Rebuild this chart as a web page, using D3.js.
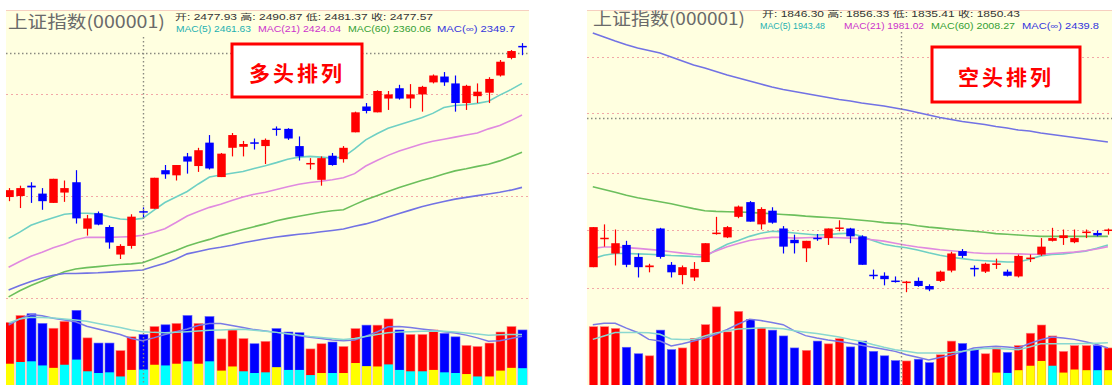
<!DOCTYPE html>
<html><head><meta charset="utf-8">
<script src="https://cdn.jsdelivr.net/npm/d3@7"></script>
<style>body{margin:0;background:#fff}svg{display:block}</style>
</head><body>
<svg id="c" width="1112" height="385"></svg>
<script>
// ================= LEFT CHART (多头排列) =================
const leftOpen  = [2271,2272.5,2287.5,2276,2262.5,2277.5,2292.5,2225,2247.5,2227.5,2187.5,2200,2250.5,2254,2310,2302.5,2330,2316,2350,2300,2342.5,2344,2350.5,2345,2370.5,2370,2345,2319.5,2296,2331,2326,2365,2402.5,2394,2414,2429,2414,2420,2437.5,2446,2436,2407.5,2417.5,2422.5,2447.5,2473,2490.5];
const leftClose = [2281,2284,2285,2265,2297.5,2284,2240,2240,2231,2205,2200,2242.5,2249.5,2299,2304,2317.5,2322.5,2339,2312.5,2334,2361,2348,2349.5,2354,2369.5,2356,2330,2320.5,2327.5,2317.5,2342.5,2394,2396,2425,2420,2414,2420,2431,2447.5,2437.5,2407.5,2432.5,2424,2442.5,2467.5,2483,2490];
const leftHigh  = [2284,2287.5,2292.5,2284,2297.5,2295,2310,2245,2250,2230,2202.5,2246,2256,2299,2317.5,2317.5,2335,2342.5,2361,2335,2364,2352.5,2356,2356,2373.5,2371,2359,2327.5,2330,2335,2345,2395,2407.5,2426,2425,2434,2435,2432.5,2449,2452.5,2447.5,2434,2436,2445,2470,2484.5,2494.5];
const leftLow   = [2265,2255,2262.5,2252.5,2262.5,2264,2232.5,2215,2230,2196,2181,2196,2240,2254,2297.5,2295,2305,2307.5,2311,2300,2330,2330,2340,2319,2360,2354,2324,2311,2287.5,2316.5,2321,2365,2392.5,2394,2397.5,2412.5,2400,2395,2436,2432.5,2395,2397.5,2407.5,2407.5,2446,2471,2477];
const leftMA1 = [2211,2220,2230,2236,2241,2246,2247.5,2247.5,2246.5,2242.5,2239,2238,2240,2251.5,2263,2271,2279,2290,2300,2303,2305.5,2308,2312.5,2316.5,2321,2326,2329,2330,2329,2327.5,2329,2341,2354,2363,2371,2376,2381,2386,2392.5,2401,2404,2405,2407,2410,2419,2427,2436];
const leftMA2 = [2169,2177.5,2185,2191,2197.5,2202.5,2209,2212.5,2212.5,2212.5,2213,2213.5,2215.5,2220,2225,2234,2243.5,2250,2256,2260.5,2266,2271,2275,2278,2282,2286,2289.5,2292,2294,2296,2299,2305,2316,2324,2331.5,2338,2343,2348,2352,2355,2358,2361,2364,2370,2375,2382,2390];
const leftMA3 = [2126,2135,2142.5,2149,2156,2162.5,2166.5,2168.5,2170,2171.5,2173,2174,2175.5,2181.5,2187.5,2193.5,2200,2205,2209.5,2215,2219.5,2224,2228,2232,2236.5,2240,2243,2246,2249,2251,2252.5,2260,2267,2273,2279,2285,2290,2295,2299.5,2304.5,2309,2312,2315.5,2318.5,2323.5,2329.5,2336];
const leftMA4 = [2136,2142.5,2148.5,2153.5,2157.5,2160,2160,2160.5,2161,2162,2163,2164,2165,2170,2175,2181,2188.5,2192,2195.5,2198,2201,2204.5,2207.5,2210.5,2213,2215,2217,2218.5,2220.5,2222.5,2224.5,2228.5,2232,2236.5,2242,2247,2252,2257,2261,2264.5,2268,2270.5,2273,2275.5,2278,2281,2285];
const leftVol   = [185,205,210,182,168,188,220,140,125,125,103,143,150,173,178,182,205,182,202,137,163,138,123,130,167,157,155,108,123,128,115,167,177,177,195,163,150,150,163,153,143,118,115,125,157,173,163];
const leftVolLow = [65,70,72,60,53,62,77,43,38,40,28,47,48,62,60,65,72,65,72,45,57,43,38,40,55,47,47,32,38,38,38,67,58,57,63,47,43,43,47,40,38,35,28,28,45,53,52];
const leftVolLowKind = "YCCCYCCCCCCYCYCYCYCYYCCCYCCCYCYYYYCCCCYCCYCYYYC";
const leftVolMA1 = [177,195,208,204,197,192,187,174,166,158,150,138,132,140,150,158,166,176,182,182,176,170,164,160,156,152,146,142,138,134,132,134,145,157,172,173,170,166,162,158,154,148,140,130,132,138,145];
const leftVolMA2 = [183,195,200,199,198,195,192,188,182,176,170,163,158,156,155,156,158,160,162,163,164,165,162,159,156,152,148,144,141,138,135,138,144,150,155,157,158,159,160,159,157,154,151,148,149,150,150];
const leftGrid = [2420, 2272, 2124];
const leftCursorPrice = 2480, leftCursorIndex = 12;

// ================= RIGHT CHART (空头排列) =================
const rightOpen  = [1797.5,1839.5,1817.5,1830,1812.5,1797.5,1854,1801,1786,1782.5,1805,1847,1841,1871,1892.5,1860,1880,1854,1837.5,1825,1840.5,1840,1854.5,1854,1842.5,1786.5,1785,1778,1775.5,1777.5,1770,1777.5,1792.5,1821,1796.5,1791,1802,1791,1784,1810.5,1816,1836,1840,1834,1848.5,1847.5,1852];
const rightClose = [1856,1840.5,1832.5,1801,1797.5,1800,1812.5,1790,1797.5,1795,1832.5,1848,1856,1886,1864,1882.5,1862.5,1827.5,1832.5,1836,1839.5,1854,1855.5,1842.5,1801,1785.5,1780,1777,1776.5,1770,1765,1791,1817.5,1814,1795.5,1802.5,1803,1785,1814,1811.5,1827.5,1840,1844,1840,1849.5,1844,1852.5];
const rightHigh  = [1856,1860,1852.5,1836,1817.5,1802.5,1855,1805,1800,1805,1832.5,1871,1857.5,1887.5,1894,1885,1885,1857.5,1845,1836,1846,1854,1866,1855,1844,1794,1790,1784,1777.5,1782.5,1772.5,1792.5,1820,1824,1800,1804,1810,1794,1816,1816,1840,1855,1852.5,1852.5,1852.5,1851,1854];
const rightLow   = [1797.5,1827.5,1800,1797.5,1782.5,1790,1810,1782.5,1772.5,1777.5,1805,1845,1840,1869,1864,1852.5,1861,1817.5,1817.5,1805,1836,1830,1850,1832.5,1801,1780,1771,1775,1761,1769,1762.5,1776,1790,1811,1784,1789,1795,1784,1782.5,1805,1814,1835,1830,1832.5,1840,1842.5,1845];
const rightMA1 = [1810,1815,1817.5,1817.5,1817,1816.5,1815.5,1814.5,1814,1813,1812.5,1822.5,1831,1836.5,1842.5,1847,1850,1849,1847.5,1846,1844.5,1845,1846.5,1847,1842.5,1836.5,1831,1828,1826,1822.5,1818.5,1815,1812,1810,1808,1807,1806,1805,1805,1809,1814,1816,1817,1819,1821,1825,1830];
const rightMA2 = [1825,1827,1827,1826,1825,1823.5,1822,1820,1818,1816.5,1815,1821,1827.5,1832,1836.5,1839,1841,1841,1840,1840.5,1841,1841,1840.5,1840,1839,1837.5,1835.5,1832.5,1829.5,1827,1825,1823,1821.5,1820,1818.5,1817.5,1817.5,1817.5,1817,1816.5,1816.5,1817.5,1818.5,1819.5,1821.5,1824,1827.5];
const rightMA3 = [1915,1911,1907,1902.5,1899,1896,1893,1890,1886.5,1883,1880,1879,1878.5,1878,1877.5,1876.5,1875.5,1874.5,1873.5,1872,1871,1870,1869,1867.5,1866,1864.5,1862.5,1861.5,1860.5,1858,1856,1854.5,1853,1851.5,1850,1848.5,1846.5,1845.5,1844.5,1843.5,1842.5,1842.5,1842.5,1842.5,1842.5,1842.5,1842.5];
const rightMA4 = [2139.4,2133.6,2127.7,2122.3,2117.5,2113.9,2110.2,2104.4,2098.5,2092.7,2088.3,2083.2,2078.1,2073.7,2069.3,2065,2060.6,2056.9,2054,2051.1,2048.2,2045.3,2042.3,2040.1,2037.2,2035,2032.8,2029.9,2027,2023.4,2019.7,2016,2013.1,2010.2,2008,2005.8,2002.9,2000.7,1997.8,1996.3,1993.4,1991.2,1989,1986.9,1984.7,1982.5,1980.3];
const rightVol = [172,172,167,112,93,87,162,105,110,138,178,230,157,217,193,168,162,145,110,103,130,122,137,113,130,100,87,73,72,77,67,90,130,123,105,93,110,97,117,153,177,145,100,117,117,117,110];
const rightVolLow = [0,0,0,0,0,0,0,0,0,0,0,0,0,0,0,0,0,0,0,0,0,0,0,0,0,0,0,0,0,0,0,0,0,0,0,0,38,37,45,58,72,58,38,47,45,45,45];
const rightVolLowKind = "NNNNNNNNNNNNNNNNNNNNNNNNNNNNNNNNNNNNYCYYYCYYYCY";
const rightVolMA1 = [178,182,182,168,155,135,130,116,122,130,139,150,164,180,194,190,184,178,160,146,139,133,129,124,118,112,106,100,90,83,75,82,89,99,110,113,115,113,110,123,134,142,139,135,128,120,110];
const rightVolMA2 = [135,145,155,155,155,154,150,136,135,135,145,154,160,165,167,169,168,166,160,156,152,147,142,135,129,120,112,105,100,95,95,95,97,100,105,109,108,107,105,113,122,122,122,122,123,124,125];
const rightGrid = [2104, 2023, 1935, 1852, 1767];
const rightCursorPrice = 2015, rightCursorIndex = 27.5;

const titleText = "上证指数(000001)";
const leftInfo = "开: 2477.93  高: 2490.87  低: 2481.37  收: 2477.57";
const leftMALabels = ["MAC(5) 2461.63", "MAC(21) 2424.04", "MAC(60) 2360.06", "MAC(∞) 2349.7"];
const rightInfo = "开: 1846.30  高: 1856.33  低: 1835.41  收: 1850.43";
const rightMALabels = ["MAC(5) 1943.48", "MAC(21) 1981.02", "MAC(60) 2008.27", "MAC(∞) 2439.8"];
const leftTag = "多头排列", rightTag = "空头排列";

// ================= DRAWING =================
const svg = d3.select('#c');
const defs = svg.append('defs');
const RED = '#ff0000', BLUE = '#0000ff', YEL = '#ffff00', CYA = '#00ffff';
const maColors = ['#6fd0c4', '#e08ae0', '#6cbf5c', '#7272e4'];
const maLabelColors = ['#22b0b0', '#cc33cc', '#33a033', '#3333dd'];
const volMAColors = ['#7a7ae6', '#8ad8d0'];

function panel(c) {
  const n = c.open.length;
  defs.append('clipPath').attr('id', 'clip' + c.id)
    .append('rect').attr('x', c.px0).attr('y', c.py0).attr('width', c.px1 - c.px0).attr('height', c.py1 - c.py0);
  const g = svg.append('g').attr('clip-path', `url(#clip${c.id})`);
  g.append('rect').attr('x', c.px0).attr('y', c.py0).attr('width', c.px1 - c.px0).attr('height', c.py1 - c.py0).attr('fill', '#ffffe0');
  g.append('line').attr('x1', c.px0).attr('x2', c.px1).attr('y1', c.py0 + 0.5).attr('y2', c.py0 + 0.5).attr('stroke', '#f6cfc0');

  const x = d3.scaleLinear().domain([0, n - 1]).range(c.xr);
  const y = d3.scaleLinear().domain(c.pDomain).range(c.pRange);
  const yv = d3.scaleLinear().domain([0, 250]).range(c.vRange);

  // grid lines
  g.selectAll('.grid').data(c.grid).join('line')
    .attr('x1', c.px0).attr('x2', c.px1)
    .attr('y1', d => Math.round(y(d)) + 0.5).attr('y2', d => Math.round(y(d)) + 0.5)
    .attr('stroke', '#f2a8a8').attr('stroke-width', 1).attr('stroke-dasharray', '2,3');
  g.append('line').attr('x1', c.px0).attr('x2', c.px1)
    .attr('y1', Math.round(y(c.cursorPrice)) + 0.5).attr('y2', Math.round(y(c.cursorPrice)) + 0.5)
    .attr('stroke', '#8a8a80').attr('stroke-width', 1.4).attr('stroke-dasharray', '1.5,2.5');

  // moving averages
  const line = d3.line().x((d, i) => x(i)).y(d => y(d));
  c.mas.forEach((arr, k) => {
    g.append('path').attr('d', line(arr)).attr('fill', 'none').attr('stroke', maColors[k]).attr('stroke-width', 1.6);
  });

  // candles
  const idx = d3.range(n);
  const col = i => c.close[i] >= c.open[i] ? RED : BLUE;
  const cg = g.append('g');
  cg.selectAll('line').data(idx).join('line')
    .attr('x1', i => Math.round(x(i)) + 0.5).attr('x2', i => Math.round(x(i)) + 0.5)
    .attr('y1', i => y(c.high[i])).attr('y2', i => y(c.low[i]))
    .attr('stroke', col).attr('stroke-width', 1.2);
  cg.selectAll('rect').data(idx).join('rect')
    .attr('x', i => Math.round(x(i)) + 0.5 - c.bw / 2)
    .attr('width', c.bw)
    .attr('y', i => Math.min(y(c.open[i]), y(c.close[i])))
    .attr('height', i => Math.max(1.5, Math.abs(y(c.open[i]) - y(c.close[i]))))
    .attr('fill', col);

  // volume
  const vg = g.append('g');
  vg.selectAll('rect.v').data(idx).join('rect').attr('class', 'v')
    .attr('x', i => Math.round(x(i)) + 0.5 - c.vw / 2).attr('width', c.vw)
    .attr('y', i => yv(c.vol[i])).attr('height', i => yv(0) - yv(c.vol[i]))
    .attr('fill', col).attr('stroke', i => col(i) === RED ? '#ff8080' : '#6060ff').attr('stroke-width', 0.6);
  vg.selectAll('rect.vl').data(idx.filter(i => c.volLow[i] > 0)).join('rect').attr('class', 'vl')
    .attr('x', i => Math.round(x(i)) + 0.5 - c.vw / 2).attr('width', c.vw)
    .attr('y', i => yv(c.volLow[i])).attr('height', i => yv(0) - yv(c.volLow[i]))
    .attr('fill', i => c.volLowKind[i] === 'Y' ? YEL : CYA);
  c.volMA.forEach((arr, k) => {
    const l = d3.line().x((d, i) => x(i)).y(d => yv(d));
    vg.append('path').attr('d', l(arr)).attr('fill', 'none').attr('stroke', volMAColors[k]).attr('stroke-width', 1.5);
  });

  // vertical cursor
  g.append('line').attr('x1', Math.round(x(c.cursorIndex)) + 0.5).attr('x2', Math.round(x(c.cursorIndex)) + 0.5)
    .attr('y1', c.cursorTop).attr('y2', c.py1)
    .attr('stroke', '#8a8a80').attr('stroke-width', 1.4).attr('stroke-dasharray', '1.5,2.5');

  // texts
  g.append('text').attr('x', c.titleX).attr('y', c.titleY).text(titleText)
    .attr('font-family', "'Noto Sans CJK SC', sans-serif").attr('font-size', 17)
    .attr('fill', '#6a6a6a').attr('textLength', c.titleW).attr('lengthAdjust', 'spacingAndGlyphs');
  g.append('text').attr('x', c.infoX).attr('y', c.infoY1).text(c.info)
    .attr('font-family', "'Liberation Sans', 'Noto Sans CJK SC', sans-serif").attr('font-size', 8.5)
    .attr('fill', '#333').attr('textLength', c.infoW).attr('lengthAdjust', 'spacingAndGlyphs');
  c.maLabels.forEach((t, k) => {
    g.append('text').attr('x', c.maX[k]).attr('y', c.infoY2).text(t)
      .attr('font-family', "'Liberation Sans', sans-serif").attr('font-size', 8.5)
      .attr('fill', maLabelColors[k]).attr('textLength', c.maW[k]).attr('lengthAdjust', 'spacingAndGlyphs');
  });

  // tag box
  const b = c.box;
  g.append('rect').attr('x', b[0]).attr('y', b[1]).attr('width', b[2]).attr('height', b[3])
    .attr('fill', '#fff').attr('stroke', '#ff0000').attr('stroke-width', 3);
  g.append('text').attr('x', b[0] + b[2] / 2).attr('y', b[1] + b[3] / 2 + 1).text(c.tag)
    .attr('text-anchor', 'middle').attr('dominant-baseline', 'central')
    .attr('font-family', "'Noto Sans CJK SC', sans-serif").attr('font-weight', 'bold').attr('font-size', 21)
    .attr('letter-spacing', 3).attr('fill', '#ff0000');
}

panel({
  id: 'L', px0: 6, px1: 529, py0: 10, py1: 385,
  open: leftOpen, close: leftClose, high: leftHigh, low: leftLow,
  mas: [leftMA1, leftMA2, leftMA3, leftMA4],
  vol: leftVol, volLow: leftVolLow, volLowKind: leftVolLowKind, volMA: [leftVolMA1, leftVolMA2],
  xr: [8.6, 522], pDomain: [2100, 2500], pRange: [314.8, 39.34], vRange: [386.1, 300],
  grid: leftGrid, cursorPrice: leftCursorPrice, cursorIndex: leftCursorIndex, cursorTop: 37,
  bw: 8.5, vw: 9,
  titleX: 8, titleY: 28, titleW: 157,
  info: leftInfo, infoX: 175, infoY1: 20, infoW: 258, infoY2: 32,
  maLabels: leftMALabels, maX: [176, 258, 348, 437], maW: [75, 83, 83, 78],
  box: [232, 44, 130, 53], tag: leftTag
});

panel({
  id: 'R', px0: 587, px1: 1112, py0: 10, py1: 385,
  open: rightOpen, close: rightClose, high: rightHigh, low: rightLow,
  mas: [rightMA1, rightMA2, rightMA3, rightMA4],
  vol: rightVol, volLow: rightVolLow, volLowKind: rightVolLowKind, volMA: [rightVolMA1, rightVolMA2],
  xr: [592.8, 1107.9], pDomain: [1700, 2160], pRange: [333.97, 18.9], vRange: [385.6, 300],
  grid: rightGrid, cursorPrice: rightCursorPrice, cursorIndex: rightCursorIndex, cursorTop: 32,
  bw: 8.5, vw: 8.5,
  titleX: 593, titleY: 25, titleW: 152,
  info: rightInfo, infoX: 762, infoY1: 17, infoW: 258, infoY2: 29,
  maLabels: rightMALabels, maX: [760, 844, 931, 1022], maW: [65, 80, 84, 77],
  box: [932, 47, 148, 55], tag: rightTag
});
</script>
</body></html>
